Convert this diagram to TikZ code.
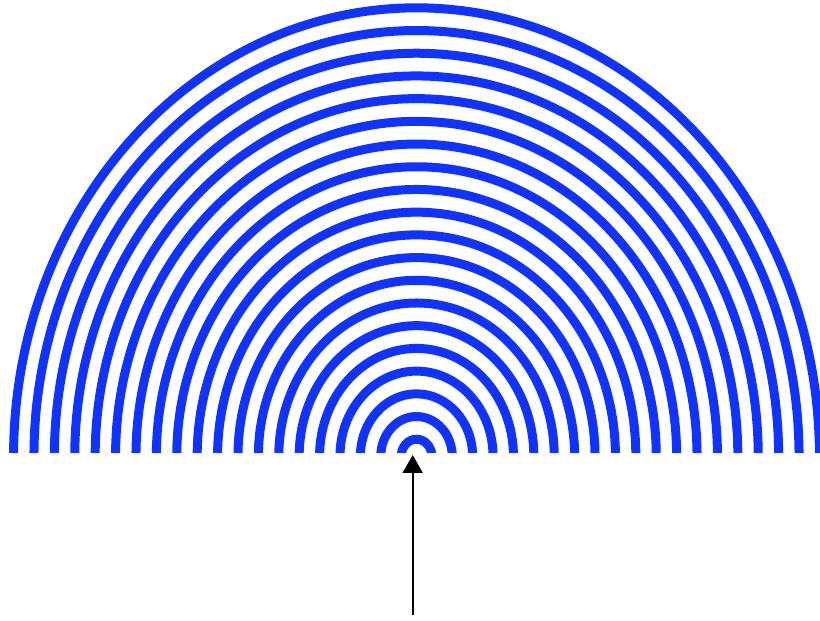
\documentclass[tikz,border=0pt]{standalone}
\usetikzlibrary{arrows.meta}
\definecolor{arcblue}{RGB}{17,51,255}
\tikzset{
  wave/.style={draw=arcblue, line width=9pt},
  pointer/.style={draw=black, line width=1.7pt, -{Triangle[width=20pt,length=18pt]}}
}
\begin{document}
\begin{tikzpicture}[x=1pt,y=1pt]
\useasboundingbox (0,0) rectangle (820,621);
\coordinate (c) at (416.5,164.7);
\begin{scope}
  \clip (0,168.3) rectangle (820,621);
  \foreach \k in {0,...,19}{
    \pgfmathsetmacro{\rx}{15.34+20.4*\k}
    \pgfmathsetmacro{\ry}{1.113*\rx}
    \draw[wave] (c) ellipse [x radius=\rx, y radius=\ry];
  }
\end{scope}
\coordinate (tail) at (412.7,6);
\coordinate (tip) at (412.7,166);
\draw[pointer] (tail) -- (tip);
\end{tikzpicture}
\end{document}
